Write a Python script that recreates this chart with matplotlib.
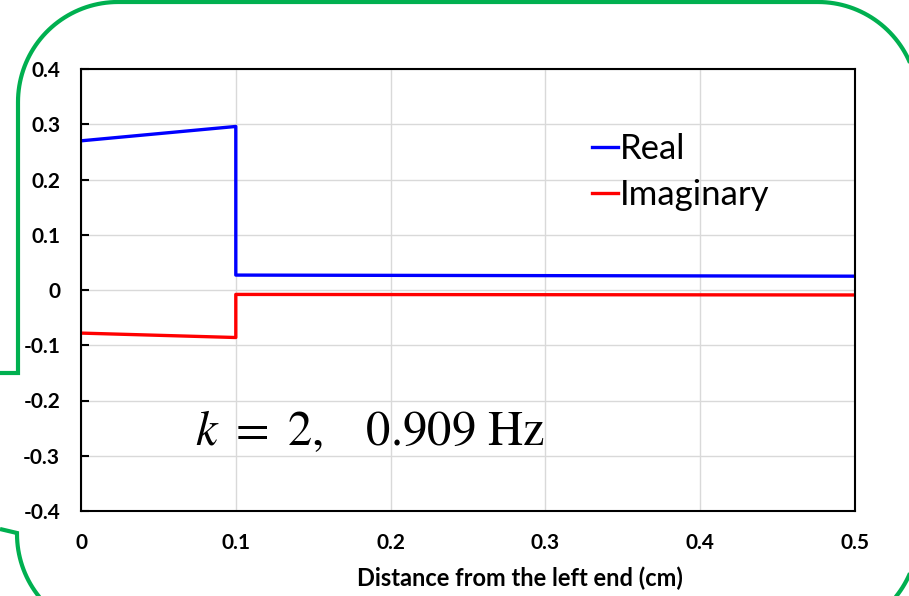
import numpy as np
import matplotlib
matplotlib.use("Agg")
import matplotlib.pyplot as plt
from matplotlib.path import Path
from matplotlib.patches import PathPatch

# data
x_real = [0.0, 0.1, 0.1, 0.5]
y_real = [0.270, 0.296, 0.027, 0.025]
x_imag = [0.0, 0.1, 0.1, 0.5]
y_imag = [-0.078, -0.086, -0.008, -0.009]
x_ticks = [0, 0.1, 0.2, 0.3, 0.4, 0.5]
x_tick_labels = ["0", "0.1", "0.2", "0.3", "0.4", "0.5"]
y_ticks = [0.4, 0.3, 0.2, 0.1, 0, -0.1, -0.2, -0.3, -0.4]
y_tick_labels = ["0.4", "0.3", "0.2", "0.1", "0", "-0.1", "-0.2", "-0.3", "-0.4"]

W, H = 909, 596
plt.rcParams['font.family'] = ['Lato', 'DejaVu Sans']
plt.rcParams['mathtext.fontset'] = 'stix'

fig = plt.figure(figsize=(W / 100, H / 100), dpi=100)
ax = fig.add_axes([81 / W, 1 - 511 / H, (855 - 81) / W, (511 - 69) / H])

ax.plot(x_real, y_real, color='#0000FF', lw=2.4, label='Real')
ax.plot(x_imag, y_imag, color='#FF0000', lw=2.4, label='Imaginary')

ax.set_xlim(0, 0.5)
ax.set_ylim(-0.4, 0.4)
ax.set_xticks(x_ticks)
ax.set_xticklabels(x_tick_labels)
ax.set_yticks(y_ticks)
ax.set_yticklabels(y_tick_labels)
ax.grid(True, color='#d9d9d9', lw=1)
ax.set_axisbelow(True)
for s in ax.spines.values():
    s.set_color('black')
    s.set_linewidth(1.5)
ax.tick_params(axis='y', direction='in', length=6, width=1.5, pad=15, labelsize=15)
ax.tick_params(axis='x', length=0, pad=16, labelsize=15)
for lab in ax.get_xticklabels() + ax.get_yticklabels():
    lab.set_fontweight('bold')
ax.set_xlabel("Distance from the left end (cm)", fontsize=17, fontweight='bold', va='center')
ax.xaxis.set_label_coords((520 - 81) / 774, (511 - 578) / 442)

leg = ax.legend(loc='upper left', bbox_to_anchor=(0.66, 0.855), frameon=False,
                fontsize=25, handlelength=0.75, handletextpad=0.06,
                labelspacing=0.4, borderaxespad=0, borderpad=0)

ax.text(0.0736, -0.28, r"$k\ =\ 2,\quad 0.909\ \mathrm{Hz}$", fontsize=35,
        va='baseline', ha='left')


# green callout border, built in pixel coords then mapped to figure coords
def arc(cx, cy, r, a0, a1, n=40):
    t = np.radians(np.linspace(a0, a1, n))
    return list(zip(cx + r * np.cos(t), cy - r * np.sin(t)))


R = 100
upper = [(0, 373), (18, 373)] + arc(118, 102, R, 180, 90) + arc(818, 102, R, 90, 0) + \
        [(918, 534)] + arc(818, 534, R, 0, -90)
lower = [(0, 529), (17, 533)] + arc(117, 534, R, 180, 270)
for pts in (upper, lower):
    pts = [(px / W, 1 - py / H) for px, py in pts]
    patch = PathPatch(Path(pts), fill=False, edgecolor='#00B050', lw=3,
                      transform=fig.transFigure, clip_on=False)
    fig.add_artist(patch)

fig.savefig("out.png", dpi=100)
